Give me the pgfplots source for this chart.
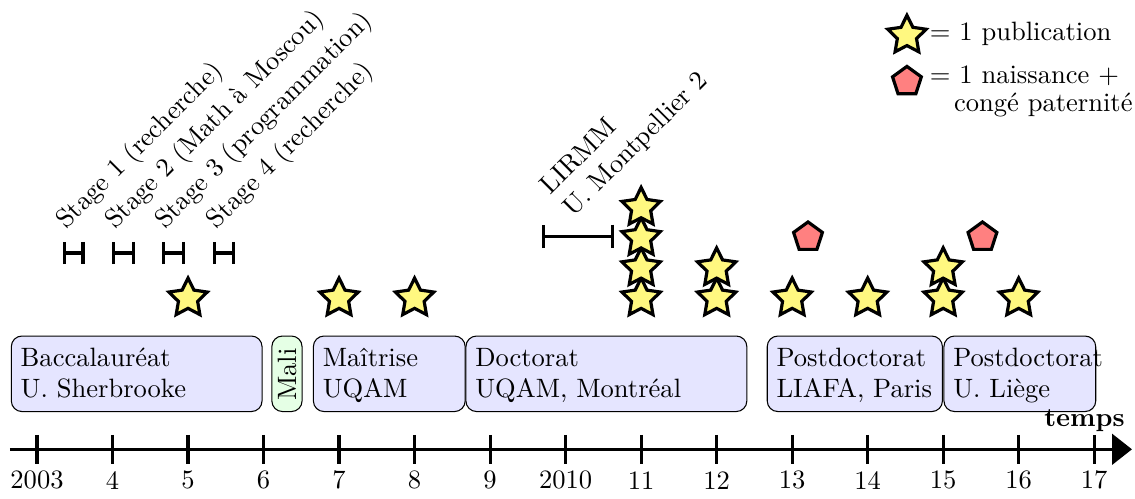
\documentclass[border=0pt]{standalone}
\usepackage{pgfplots}
\pgfplotsset{compat=1.18}
\usetikzlibrary{arrows.meta}

\pgfdeclareplotmark{fstar}{%
 \pgfpathmoveto{\pgfpointpolar{90}{\pgfplotmarksize}}%
 \pgfpathlineto{\pgfpointpolar{126}{0.5\pgfplotmarksize}}%
 \pgfpathlineto{\pgfpointpolar{162}{\pgfplotmarksize}}%
 \pgfpathlineto{\pgfpointpolar{198}{0.5\pgfplotmarksize}}%
 \pgfpathlineto{\pgfpointpolar{234}{\pgfplotmarksize}}%
 \pgfpathlineto{\pgfpointpolar{270}{0.5\pgfplotmarksize}}%
 \pgfpathlineto{\pgfpointpolar{306}{\pgfplotmarksize}}%
 \pgfpathlineto{\pgfpointpolar{342}{0.5\pgfplotmarksize}}%
 \pgfpathlineto{\pgfpointpolar{18}{\pgfplotmarksize}}%
 \pgfpathlineto{\pgfpointpolar{54}{0.5\pgfplotmarksize}}%
 \pgfpathclose
 \pgfusepathqfillstroke}
\pgfdeclareplotmark{fpent}{%
 \pgfpathmoveto{\pgfpointpolar{90}{\pgfplotmarksize}}%
 \pgfpathlineto{\pgfpointpolar{162}{\pgfplotmarksize}}%
 \pgfpathlineto{\pgfpointpolar{234}{\pgfplotmarksize}}%
 \pgfpathlineto{\pgfpointpolar{306}{\pgfplotmarksize}}%
 \pgfpathlineto{\pgfpointpolar{18}{\pgfplotmarksize}}%
 \pgfpathclose
 \pgfusepathqfillstroke}

\pgfplotstableread{
x y
2005 2.0
2007 2.0
2008 2.0
2011 2.0
2012 2.0
2013 2.0
2014 2.0
2015 2.0
2016 2.0
2011 2.4
2012 2.4
2015 2.4
2011 2.8
2011 3.2
}\pubs
\pgfplotstableread{
x y
2013.21 2.81
2015.52 2.81
}\births

\begin{document}
\begin{tikzpicture}
\begin{axis}[
  hide axis, clip=false,
  x=1cm, y=1cm,
  xmin=2002.51, xmax=2017.54, ymin=-0.57, ymax=5.95,
]
\path (rel axis cs:0,0) rectangle (rel axis cs:1,1);

% periods
\addplot[draw=black, fill=blue!10, rounded corners=4pt] coordinates {(2004,0.5)(2005.98,0.5)(2005.98,1.5)(2002.66,1.5)(2002.66,0.5)(2004,0.5)};
\addplot[draw=black, fill=green!10, rounded corners=4pt] coordinates {(2006.3,0.5)(2006.51,0.5)(2006.51,1.5)(2006.11,1.5)(2006.11,0.5)(2006.3,0.5)};
\addplot[draw=black, fill=blue!10, rounded corners=4pt] coordinates {(2007.5,0.5)(2008.67,0.5)(2008.67,1.5)(2006.66,1.5)(2006.66,0.5)(2007.5,0.5)};
\addplot[draw=black, fill=blue!10, rounded corners=4pt] coordinates {(2010.5,0.5)(2012.4,0.5)(2012.4,1.5)(2008.68,1.5)(2008.68,0.5)(2010.5,0.5)};
\addplot[draw=black, fill=blue!10, rounded corners=4pt] coordinates {(2013.8,0.5)(2014.99,0.5)(2014.99,1.5)(2012.67,1.5)(2012.67,0.5)(2013.8,0.5)};
\addplot[draw=black, fill=blue!10, rounded corners=4pt] coordinates {(2016,0.5)(2017.02,0.5)(2017.02,1.5)(2015.01,1.5)(2015.01,0.5)(2016,0.5)};

\node[anchor=base west] at (axis cs:2002.66,1.10) {Baccalauréat};
\node[anchor=base west] at (axis cs:2002.66,0.68) {U. Sherbrooke};
\node[rotate=90] at (axis cs:2006.31,0.99) {Mali};
\node[anchor=base west] at (axis cs:2006.66,1.10) {Maîtrise};
\node[anchor=base west] at (axis cs:2006.66,0.68) {UQAM};
\node[anchor=base west] at (axis cs:2008.68,1.10) {Doctorat};
\node[anchor=base west] at (axis cs:2008.68,0.68) {UQAM, Montréal};
\node[anchor=base west] at (axis cs:2012.67,1.10) {Postdoctorat};
\node[anchor=base west] at (axis cs:2012.67,0.68) {LIAFA, Paris};
\node[anchor=base west] at (axis cs:2015.01,1.10) {Postdoctorat};
\node[anchor=base west] at (axis cs:2015.01,0.68) {U. Liège};

% time axis
\draw[line width=1.2pt, -{Triangle[length=7.5pt,width=11.5pt]}] (axis cs:2002.64,0) -- (axis cs:2017.5,0);
\addplot[only marks, mark=|, mark size=0.19cm, mark options={line width=1.2pt}] coordinates {
(2003,0)(2004,0)(2005,0)(2006,0)(2007,0)(2008,0)(2009,0)(2010,0)(2011,0)(2012,0)(2013,0)(2014,0)(2015,0)(2016,0)(2017,0)};
\node at (axis cs:2003,-0.41) {2003};
\node at (axis cs:2004,-0.41) {4};
\node at (axis cs:2005,-0.41) {5};
\node at (axis cs:2006,-0.41) {6};
\node at (axis cs:2007,-0.41) {7};
\node at (axis cs:2008,-0.41) {8};
\node at (axis cs:2009,-0.41) {9};
\node at (axis cs:2010,-0.41) {2010};
\node at (axis cs:2011,-0.41) {11};
\node at (axis cs:2012,-0.41) {12};
\node at (axis cs:2013,-0.41) {13};
\node at (axis cs:2014,-0.41) {14};
\node at (axis cs:2015,-0.41) {15};
\node at (axis cs:2016,-0.41) {16};
\node at (axis cs:2017,-0.41) {17};
\node[anchor=base] at (axis cs:2016.87,0.30) {\textbf{temps}};

% stages
\addplot[line width=1.2pt, {Bar[width=8.4pt]}-{Bar[width=8.4pt]}] coordinates {(2003.34,2.6)(2003.63,2.6)};
\addplot[line width=1.2pt, {Bar[width=8.4pt]}-{Bar[width=8.4pt]}] coordinates {(2003.99,2.6)(2004.30,2.6)};
\addplot[line width=1.2pt, {Bar[width=8.4pt]}-{Bar[width=8.4pt]}] coordinates {(2004.65,2.6)(2004.96,2.6)};
\addplot[line width=1.2pt, {Bar[width=8.4pt]}-{Bar[width=8.4pt]}] coordinates {(2005.33,2.6)(2005.62,2.6)};
\node[overlay, rotate=45, anchor=south west] at (axis cs:2003.45,2.67) {Stage 1 (recherche)};
\node[overlay, rotate=45, anchor=south west] at (axis cs:2004.10,2.67) {Stage 2 (Math à Moscou)};
\node[overlay, rotate=45, anchor=south west] at (axis cs:2004.76,2.67) {Stage 3 (programmation)};
\node[overlay, rotate=45, anchor=south west] at (axis cs:2005.44,2.67) {Stage 4 (recherche)};

\addplot[line width=1.2pt, {Bar[width=8.8pt]}-{Bar[width=8.8pt]}] coordinates {(2009.69,2.82)(2010.64,2.82)};
\node[overlay, rotate=45, anchor=south west, align=left] at (axis cs:2010.15,2.84) {LIRMM\\U. Montpellier 2};

% publications and births
\addplot[only marks, mark=fstar, mark size=7.6pt, mark options={fill=yellow!50, draw=black, line width=1.2pt}] table[x=x,y=y] {\pubs};
\addplot[only marks, mark=fpent, mark size=5.7pt, mark options={fill=red!50, draw=black, line width=1.2pt}] table[x=x,y=y] {\births};

% legend
\addplot[only marks, mark=fstar, mark size=7.6pt, mark options={fill=yellow!50, draw=black, line width=1.2pt}] coordinates {(2014.52,5.48)};
\addplot[only marks, mark=fpent, mark size=5.7pt, mark options={fill=red!50, draw=black, line width=1.2pt}] coordinates {(2014.52,4.87)};
\node[overlay, anchor=base west] at (axis cs:2014.70,5.42) {$=$ 1 publication};
\node[overlay, anchor=base west] at (axis cs:2014.70,4.84) {$=$ 1 naissance $+$};
\node[overlay, anchor=base west] at (axis cs:2015.02,4.47) {congé paternité};
\end{axis}
\end{tikzpicture}
\end{document}
